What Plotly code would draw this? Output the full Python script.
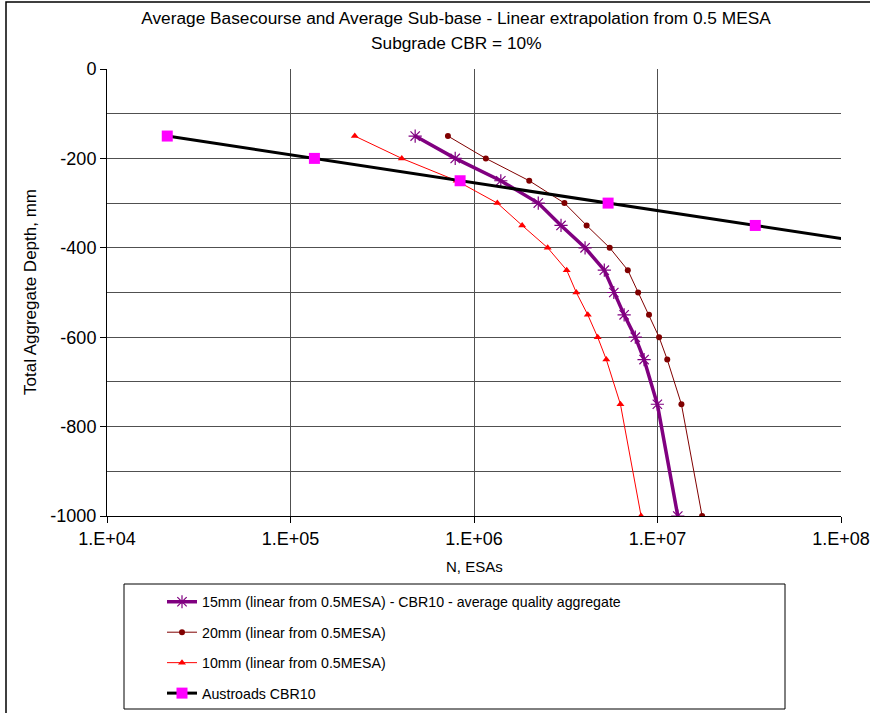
import plotly.graph_objects as go

# ---- data ----
depth = [-150, -200, -250, -300, -350, -400, -450, -500, -550, -600, -650, -750, -1000]
esa_15mm = [4.78e5, 7.9e5, 1.40e6, 2.24e6, 2.98e6, 4.03e6, 5.13e6, 5.78e6, 6.58e6, 7.57e6, 8.45e6, 9.98e6, 1.29e7]
esa_20mm = [7.21e5, 1.16e6, 2.0e6, 3.11e6, 4.11e6, 5.49e6, 6.89e6, 7.84e6, 8.99e6, 1.02e7, 1.13e7, 1.35e7, 1.75e7]
esa_10mm = [2.24e5, 4.04e5, 8.04e5, 1.34e6, 1.83e6, 2.52e6, 3.20e6, 3.61e6, 4.17e6, 4.72e6, 5.26e6, 6.28e6, 8.14e6]
austroads_esa = [2.13e4, 1.35e5, 8.4e5, 5.38e6, 3.41e7, 2.15e8]
austroads_depth = [-150, -200, -250, -300, -350, -400]

x_tickvals = [1e4, 1e5, 1e6, 1e7, 1e8]
x_ticktext = ["1.E+04", "1.E+05", "1.E+06", "1.E+07", "1.E+08"]
y_tickvals = [0, -200, -400, -600, -800, -1000]
y_ticktext = ["0", "-200", "-400", "-600", "-800", "-1000"]

names = ["15mm (linear from 0.5MESA) - CBR10 - average quality aggregate",
         "20mm (linear from 0.5MESA)",
         "10mm (linear from 0.5MESA)",
         "Austroads CBR10"]

title_line1 = "Average Basecourse and Average Sub-base - Linear extrapolation from 0.5 MESA"
title_line2 = "Subgrade CBR = 10%"
x_title = "N, ESAs"
y_title = "Total Aggregate Depth, mm"

FONT = "Arial, Liberation Sans, sans-serif"

fig = go.Figure()
fig.add_trace(go.Scatter(x=esa_15mm, y=depth, name=names[0], legendgroup="a",
                         mode="lines+markers",
                         line=dict(color="#800080", width=3.5),
                         marker=dict(symbol="asterisk-open", size=11,
                                     line=dict(color="#800080", width=1.2))))
fig.add_trace(go.Scatter(x=esa_20mm, y=depth, name=names[1], legendgroup="b",
                         mode="lines+markers",
                         line=dict(color="#800000", width=1),
                         marker=dict(symbol="circle", size=6, color="#800000")))
fig.add_trace(go.Scatter(x=esa_10mm, y=depth, name=names[2], legendgroup="c",
                         mode="lines+markers",
                         line=dict(color="#FF0000", width=1),
                         marker=dict(symbol="triangle-up", size=7, color="#FF0000")))
fig.add_trace(go.Scatter(x=austroads_esa, y=austroads_depth, name=names[3], legendgroup="d",
                         mode="lines+markers",
                         line=dict(color="#000000", width=3),
                         marker=dict(symbol="square", size=11, color="#FF00FF")))

W, H = 870, 713
L, R, T, B = 107, 29, 69, 197
pw, ph = W - L - R, H - T - B

def px(xp):
    return (xp - L) / pw

def py(yp):
    return (H - B - yp) / ph

fig.update_layout(
    width=W, height=H,
    margin=dict(l=L, r=R, t=T, b=B, autoexpand=False),
    paper_bgcolor="white", plot_bgcolor="white",
    font=dict(family=FONT, color="black", size=14),
    showlegend=True,
    title=dict(text=title_line1,
               x=456 / W, xanchor="center", xref="container",
               y=1 - 18 / H, yanchor="middle", yref="container",
               font=dict(size=17.3, family=FONT)),
    annotations=[
        dict(text=title_line2, xref="paper", yref="paper",
             x=px(456), y=py(43), xanchor="center", yanchor="middle",
             showarrow=False, font=dict(size=17.3, family=FONT)),
        dict(text=y_title, xref="paper", yref="paper",
             x=px(30), y=py(292), xanchor="center", yanchor="middle",
             textangle=-90, showarrow=False, font=dict(size=17, family=FONT)),
        dict(text=x_title, xref="paper", yref="paper",
             x=px(474), y=py(566), xanchor="center", yanchor="middle",
             showarrow=False, font=dict(size=15, family=FONT)),
    ],
    legend=dict(x=162 / W, y=1 - 586 / H, xanchor="left", yanchor="top",
                xref="container", yref="container",
                bgcolor="rgba(0,0,0,0)", borderwidth=0,
                font=dict(size=14.2, family=FONT),
                tracegroupgap=9, traceorder="grouped"),
    shapes=[
        dict(type="rect", xref="paper", yref="paper",
             x0=px(124), x1=px(785), y0=py(709), y1=py(584),
             line=dict(color="#000000", width=1)),
        dict(type="rect", xref="paper", yref="paper",
             x0=px(6), x1=px(880), y0=py(725), y1=py(2),
             line=dict(color="#000000", width=1.5)),
    ],
)

fig.update_xaxes(type="log", range=[4, 8], automargin=False,
                 tickvals=x_tickvals, ticktext=x_ticktext,
                 ticks="outside", ticklen=6, tickcolor="black",
                 showline=True, linecolor="black", linewidth=1,
                 showgrid=True, gridcolor="#505050", gridwidth=1,
                 zeroline=False, tickfont=dict(size=18, family=FONT))
fig.update_yaxes(range=[-1000, 0], automargin=False,
                 tickvals=y_tickvals, ticktext=y_ticktext,
                 ticks="outside", ticklen=6, tickcolor="black",
                 showline=True, linecolor="black", linewidth=1,
                 showgrid=True, gridcolor="#505050", gridwidth=1,
                 minor=dict(dtick=100, showgrid=True, gridcolor="#505050", gridwidth=1, ticks=""),
                 zeroline=False, tickfont=dict(size=18, family=FONT))

fig.write_html("out.html", config={"displayModeBar": False},
               post_script="document.body.style.margin='0px';")
